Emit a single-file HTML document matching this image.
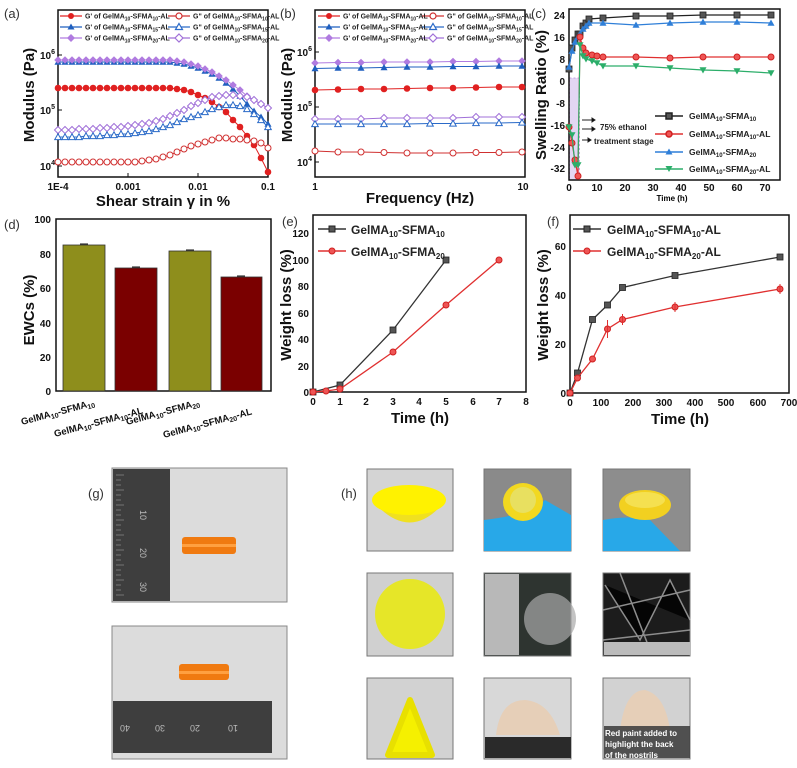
<!DOCTYPE html>
<html><head><meta charset="utf-8"><style>
html,body{margin:0;padding:0;background:#fff}
svg{display:block;font-family:"Liberation Sans",Arial,sans-serif}
.t{font-size:10px;font-weight:bold;fill:#111}
.ax{font-size:15px;font-weight:bold;fill:#111}
.lg{font-size:7px;font-weight:bold;fill:#222}
.pl{font-size:13px;fill:#333}
</style></head><body>
<svg width="797" height="768" viewBox="0 0 797 768" xmlns="http://www.w3.org/2000/svg">
<defs>
<marker id="rc" markerUnits="userSpaceOnUse" markerWidth="10" markerHeight="10" refX="5" refY="5"><circle cx="5" cy="5" r="3.3" fill="#e02020"/></marker>
<marker id="ro" markerUnits="userSpaceOnUse" markerWidth="10" markerHeight="10" refX="5" refY="5"><circle cx="5" cy="5" r="3" fill="#fff" stroke="#d03030" stroke-width="1"/></marker>
<marker id="bt" markerUnits="userSpaceOnUse" markerWidth="10" markerHeight="10" refX="5" refY="5"><path d="M5 1.5L8.5 7.8H1.5Z" fill="#1f5fbf"/></marker>
<marker id="bo" markerUnits="userSpaceOnUse" markerWidth="10" markerHeight="10" refX="5" refY="5"><path d="M5 1.8L8.3 7.6H1.7Z" fill="#fff" stroke="#2a6ac8" stroke-width="1"/></marker>
<marker id="pd" markerUnits="userSpaceOnUse" markerWidth="10" markerHeight="10" refX="5" refY="5"><path d="M5 1.2L8.8 5L5 8.8L1.2 5Z" fill="#b07be0"/></marker>
<marker id="po" markerUnits="userSpaceOnUse" markerWidth="10" markerHeight="10" refX="5" refY="5"><path d="M5 1.5L8.5 5L5 8.5L1.5 5Z" fill="#fff" stroke="#a070d8" stroke-width="1"/></marker>
<marker id="ks" markerUnits="userSpaceOnUse" markerWidth="10" markerHeight="10" refX="5" refY="5"><rect x="2" y="2" width="6" height="6" fill="#555" stroke="#222" stroke-width=".8"/></marker>
<marker id="rc2" markerUnits="userSpaceOnUse" markerWidth="10" markerHeight="10" refX="5" refY="5"><circle cx="5" cy="5" r="3" fill="#ee5555" stroke="#d02020"/></marker>
<marker id="bt2" markerUnits="userSpaceOnUse" markerWidth="10" markerHeight="10" refX="5" refY="5"><path d="M5 1.5L8.5 7.8H1.5Z" fill="#2f7fd8"/></marker>
<marker id="gv" markerUnits="userSpaceOnUse" markerWidth="10" markerHeight="10" refX="5" refY="5"><path d="M1.5 2.2H8.5L5 8.5Z" fill="#2cae6a"/></marker>
</defs>

<!-- (a) -->
<text x="4" y="18" class="pl">(a)</text>
<rect x="58" y="10" width="210" height="167" fill="none" stroke="#111" stroke-width="1.5"/>
<g stroke="#111" stroke-width="1">
<line x1="58" y1="55" x2="62" y2="55"/><line x1="58" y1="110" x2="62" y2="110"/><line x1="58" y1="166" x2="62" y2="166"/>
<line x1="128" y1="177" x2="128" y2="173"/><line x1="198" y1="177" x2="198" y2="173"/></g>
<text x="55" y="59" class="t" text-anchor="end">10<tspan font-size="7" dy="-5">6</tspan></text>
<text x="55" y="114" class="t" text-anchor="end">10<tspan font-size="7" dy="-5">5</tspan></text>
<text x="55" y="170" class="t" text-anchor="end">10<tspan font-size="7" dy="-5">4</tspan></text>
<text x="58" y="190" class="t" text-anchor="middle">1E-4</text>
<text x="128" y="190" class="t" text-anchor="middle">0.001</text>
<text x="198" y="190" class="t" text-anchor="middle">0.01</text>
<text x="268" y="190" class="t" text-anchor="middle">0.1</text>
<text x="163" y="206" class="ax" text-anchor="middle">Shear strain γ in %</text>
<text transform="translate(34,95) rotate(-90)" class="ax" text-anchor="middle">Modulus (Pa)</text>
<g fill="none" stroke-width="1">
<polyline stroke="#e02020" marker-start="url(#rc)" marker-mid="url(#rc)" marker-end="url(#rc)" points="58,88 65,88 72,88 79,88 86,88 93,88 100,88 107,88 114,88 121,88 128,88 135,88 142,88 149,88 156,88 163,88 170,88 177,89 184,90 191,92 198,95 205,98 212,102 219,107 226,112 233,120 240,127 247,136 254,145 261,158 268,172"/>
<polyline stroke="#d03030" marker-start="url(#ro)" marker-mid="url(#ro)" marker-end="url(#ro)" points="58,162 65,162 72,162 79,162 86,162 93,162 100,162 107,162 114,162 121,162 128,162 135,162 142,161 149,160 156,159 163,157 170,155 177,152 184,149 191,146 198,144 205,142 212,140 219,138 226,138 233,139 240,139 247,140 254,141 261,143 268,148"/>
<polyline stroke="#1f5fbf" marker-start="url(#bt)" marker-mid="url(#bt)" marker-end="url(#bt)" points="58,62 65,62 72,62 79,62 86,62 93,62 100,62 107,62 114,62 121,62 128,62 135,62 142,62 149,62 156,62 163,62 170,62 177,63 184,64 191,66 198,68 205,71 212,74 219,78 226,83 233,89 240,96 247,104 254,111 261,117 268,124"/>
<polyline stroke="#b07be0" marker-start="url(#pd)" marker-mid="url(#pd)" marker-end="url(#pd)" points="58,60 65,60 72,60 79,60 86,60 93,60 100,60 107,60 114,60 121,60 128,60 135,60 142,60 149,60 156,60 163,60 170,60 177,61 184,62 191,64 198,66 205,69 212,72 219,76 226,80 233,85 240,90 247,96 254,100 261,104 268,108"/>
<polyline stroke="#a070d8" marker-start="url(#po)" marker-mid="url(#po)" marker-end="url(#po)" points="58,130 65,130 72,130 79,129 86,129 93,129 100,128 107,128 114,127 121,127 128,126 135,125 142,124 149,123 156,121 163,119 170,116 177,113 184,110 191,106 198,103 205,100 212,97 219,96 226,95 233,95 240,96 247,97 254,100 261,104 268,108"/>
<polyline stroke="#2a6ac8" marker-start="url(#bo)" marker-mid="url(#bo)" marker-end="url(#bo)" points="58,137 65,137 72,137 79,137 86,136 93,136 100,136 107,135 114,135 121,134 128,134 135,133 142,132 149,131 156,129 163,127 170,125 177,122 184,119 191,117 198,115 205,112 212,109 219,107 226,105 233,105 240,106 247,109 254,114 261,120 268,127"/>
</g>
<g stroke-width="1.2">
<line x1="60" y1="16" x2="82" y2="16" stroke="#e02020"/><circle cx="71" cy="16" r="3" fill="#e02020"/>
<line x1="60" y1="27" x2="82" y2="27" stroke="#1f5fbf"/><path d="M71 23.5L74.5 29.5H67.5Z" fill="#1f5fbf"/>
<line x1="60" y1="38" x2="82" y2="38" stroke="#b07be0"/><path d="M71 34L75 38L71 42L67 38Z" fill="#b07be0"/>
<line x1="168" y1="16" x2="190" y2="16" stroke="#d03030"/><circle cx="179" cy="16" r="3" fill="#fff" stroke="#d03030"/>
<line x1="168" y1="27" x2="190" y2="27" stroke="#2a6ac8"/><path d="M179 23.5L182.5 29.5H175.5Z" fill="#fff" stroke="#2a6ac8"/>
<line x1="168" y1="38" x2="190" y2="38" stroke="#a070d8"/><path d="M179 34L183 38L179 42L175 38Z" fill="#fff" stroke="#a070d8"/>
</g>
<text x="85" y="18.5" class="lg">G' of GelMA<tspan font-size="5" dy="2">10</tspan><tspan dy="-2">-SFMA</tspan><tspan font-size="5" dy="2">10</tspan><tspan dy="-2">-AL</tspan></text>
<text x="85" y="29.5" class="lg">G' of GelMA<tspan font-size="5" dy="2">10</tspan><tspan dy="-2">-SFMA</tspan><tspan font-size="5" dy="2">15</tspan><tspan dy="-2">-AL</tspan></text>
<text x="85" y="40.5" class="lg">G' of GelMA<tspan font-size="5" dy="2">10</tspan><tspan dy="-2">-SFMA</tspan><tspan font-size="5" dy="2">20</tspan><tspan dy="-2">-AL</tspan></text>
<text x="193" y="18.5" class="lg">G" of GelMA<tspan font-size="5" dy="2">10</tspan><tspan dy="-2">-SFMA</tspan><tspan font-size="5" dy="2">10</tspan><tspan dy="-2">-AL</tspan></text>
<text x="193" y="29.5" class="lg">G" of GelMA<tspan font-size="5" dy="2">10</tspan><tspan dy="-2">-SFMA</tspan><tspan font-size="5" dy="2">15</tspan><tspan dy="-2">-AL</tspan></text>
<text x="193" y="40.5" class="lg">G" of GelMA<tspan font-size="5" dy="2">10</tspan><tspan dy="-2">-SFMA</tspan><tspan font-size="5" dy="2">20</tspan><tspan dy="-2">-AL</tspan></text>

<!-- (b) -->
<text x="280" y="18" class="pl">(b)</text>
<rect x="315" y="10" width="210" height="167" fill="none" stroke="#111" stroke-width="1.5"/>
<g stroke="#111"><line x1="315" y1="52" x2="319" y2="52"/><line x1="315" y1="107" x2="319" y2="107"/><line x1="315" y1="162" x2="319" y2="162"/></g>
<text x="312" y="56" class="t" text-anchor="end">10<tspan font-size="7" dy="-5">6</tspan></text>
<text x="312" y="111" class="t" text-anchor="end">10<tspan font-size="7" dy="-5">5</tspan></text>
<text x="312" y="166" class="t" text-anchor="end">10<tspan font-size="7" dy="-5">4</tspan></text>
<text x="315" y="190" class="t" text-anchor="middle">1</text>
<text x="523" y="190" class="t" text-anchor="middle">10</text>
<text x="420" y="203" class="ax" text-anchor="middle" font-size="16">Frequency (Hz)</text>
<text transform="translate(292,95) rotate(-90)" class="ax" text-anchor="middle">Modulus (Pa)</text>
<g fill="none" stroke-width="1">
<polyline stroke="#b07be0" marker-start="url(#pd)" marker-mid="url(#pd)" marker-end="url(#pd)" points="315,63 338,62.5 361,62.5 384,62 407,62 430,62 453,61.5 476,61.5 499,61 522,61"/>
<polyline stroke="#1f5fbf" marker-start="url(#bt)" marker-mid="url(#bt)" marker-end="url(#bt)" points="315,68.5 338,68 361,68 384,67.5 407,67 430,67 453,66.5 476,66.5 499,66 522,66"/>
<polyline stroke="#e02020" marker-start="url(#rc)" marker-mid="url(#rc)" marker-end="url(#rc)" points="315,90 338,89.5 361,89 384,89 407,88.5 430,88 453,88 476,87.5 499,87 522,87"/>
<polyline stroke="#a070d8" marker-start="url(#po)" marker-mid="url(#po)" marker-end="url(#po)" points="315,119 338,119 361,119 384,118 407,118 430,118 453,118 476,117 499,117 522,117"/>
<polyline stroke="#2a6ac8" marker-start="url(#bo)" marker-mid="url(#bo)" marker-end="url(#bo)" points="315,124 338,124 361,124 384,124 407,124 430,123.5 453,123.5 476,123 499,123 522,122.5"/>
<polyline stroke="#d03030" marker-start="url(#ro)" marker-mid="url(#ro)" marker-end="url(#ro)" points="315,151 338,152 361,152 384,152.5 407,153 430,153 453,153 476,152.5 499,152.5 522,152"/>
</g>
<g stroke-width="1.2">
<line x1="318" y1="16" x2="340" y2="16" stroke="#e02020"/><circle cx="329" cy="16" r="3" fill="#e02020"/>
<line x1="318" y1="27" x2="340" y2="27" stroke="#1f5fbf"/><path d="M329 23.5L332.5 29.5H325.5Z" fill="#1f5fbf"/>
<line x1="318" y1="38" x2="340" y2="38" stroke="#b07be0"/><path d="M329 34L333 38L329 42L325 38Z" fill="#b07be0"/>
<line x1="422" y1="16" x2="444" y2="16" stroke="#d03030"/><circle cx="433" cy="16" r="3" fill="#fff" stroke="#d03030"/>
<line x1="422" y1="27" x2="444" y2="27" stroke="#2a6ac8"/><path d="M433 23.5L436.5 29.5H429.5Z" fill="#fff" stroke="#2a6ac8"/>
<line x1="422" y1="38" x2="444" y2="38" stroke="#a070d8"/><path d="M433 34L437 38L433 42L429 38Z" fill="#fff" stroke="#a070d8"/>
</g>
<text x="343" y="18.5" class="lg">G' of GelMA<tspan font-size="5" dy="2">10</tspan><tspan dy="-2">-SFMA</tspan><tspan font-size="5" dy="2">10</tspan><tspan dy="-2">-AL</tspan></text>
<text x="343" y="29.5" class="lg">G' of GelMA<tspan font-size="5" dy="2">10</tspan><tspan dy="-2">-SFMA</tspan><tspan font-size="5" dy="2">15</tspan><tspan dy="-2">-AL</tspan></text>
<text x="343" y="40.5" class="lg">G' of GelMA<tspan font-size="5" dy="2">10</tspan><tspan dy="-2">-SFMA</tspan><tspan font-size="5" dy="2">20</tspan><tspan dy="-2">-AL</tspan></text>
<text x="447" y="18.5" class="lg">G" of GelMA<tspan font-size="5" dy="2">10</tspan><tspan dy="-2">-SFMA</tspan><tspan font-size="5" dy="2">10</tspan><tspan dy="-2">-AL</tspan></text>
<text x="447" y="29.5" class="lg">G" of GelMA<tspan font-size="5" dy="2">10</tspan><tspan dy="-2">-SFMA</tspan><tspan font-size="5" dy="2">15</tspan><tspan dy="-2">-AL</tspan></text>
<text x="447" y="40.5" class="lg">G" of GelMA<tspan font-size="5" dy="2">10</tspan><tspan dy="-2">-SFMA</tspan><tspan font-size="5" dy="2">20</tspan><tspan dy="-2">-AL</tspan></text>

<!-- (c) -->
<text x="531" y="18" class="pl">(c)</text>
<rect x="570" y="8" width="3.5" height="0" />
<rect x="569.5" y="78" width="10" height="102" fill="#e3d6f3" stroke="#b78bd8" stroke-dasharray="2,2" stroke-width=".7"/>
<rect x="569" y="9" width="211" height="171" fill="none" stroke="#111" stroke-width="1.5"/>
<g class="t" text-anchor="end" font-size="10">
<text x="565" y="19">24</text><text x="565" y="41">16</text><text x="565" y="63">8</text><text x="565" y="85">0</text>
<text x="565" y="107">-8</text><text x="565" y="129">-16</text><text x="565" y="151">-24</text><text x="565" y="172">-32</text></g>
<g class="t" text-anchor="middle" font-size="10">
<text x="569" y="191">0</text><text x="597" y="191">10</text><text x="625" y="191">20</text><text x="653" y="191">30</text>
<text x="681" y="191">40</text><text x="709" y="191">50</text><text x="737" y="191">60</text><text x="765" y="191">70</text></g>
<text x="672" y="201" font-size="8" font-weight="bold" text-anchor="middle">Time (h)</text>
<text transform="translate(546,95) rotate(-90)" class="ax" text-anchor="middle" font-size="14">Swelling Ratio (%)</text>
<g fill="none" stroke-width="1.2">
<polyline stroke="#222" marker-start="url(#ks)" marker-mid="url(#ks)" marker-end="url(#ks)" points="569,69 572,48 575,40 578,34 580,34 583,26 586,23 589,19 603,18 636,16 670,16 703,15 737,15 771,15"/>
<polyline stroke="#2f7fd8" marker-start="url(#bt2)" marker-mid="url(#bt2)" marker-end="url(#bt2)" points="569,67 572,51 575,42 578,37 580,34 583,29 586,26 589,23 603,23 636,25 670,23 703,22 737,22 771,23"/>
<polyline stroke="#e03030" marker-start="url(#rc2)" marker-mid="url(#rc2)" marker-end="url(#rc2)" points="569,127 572,143 575,160 578,176 580,37 583,48 586,53 592,55 597,56 603,57 636,57 670,58 703,57 737,57 771,57"/>
<polyline stroke="#2cae6a" marker-start="url(#gv)" marker-mid="url(#gv)" marker-end="url(#gv)" points="569,127 572,135 575,165 578,165 580,45 583,56 586,59 592,61 597,63 603,66 636,66 670,68 703,70 737,71 771,73"/>
</g>
<g stroke="#222" stroke-width="1"><line x1="582" y1="120" x2="592" y2="120"/><path d="M592 118L595 120L592 122Z"/>
<line x1="582" y1="129" x2="592" y2="129"/><path d="M592 127L595 129L592 131Z"/>
<line x1="582" y1="140" x2="588" y2="140"/><path d="M588 138L591 140L588 142Z"/></g>
<text x="600" y="130" font-size="8" font-weight="bold" fill="#222">75% ethanol</text>
<text x="594" y="144" font-size="8" font-weight="bold" fill="#222">treatment stage</text>
<g stroke-width="1.5">
<line x1="655" y1="116" x2="683" y2="116" stroke="#222"/><rect x="666" y="113" width="6" height="6" fill="#555" stroke="#222"/>
<line x1="655" y1="134" x2="683" y2="134" stroke="#e03030"/><circle cx="669" cy="134" r="3" fill="#ee5555" stroke="#d02020"/>
<line x1="655" y1="152" x2="683" y2="152" stroke="#2f7fd8"/><path d="M669 148.5L672.5 154.5H665.5Z" fill="#2f7fd8"/>
<line x1="655" y1="169" x2="683" y2="169" stroke="#2cae6a"/><path d="M665.5 166H672.5L669 172Z" fill="#2cae6a"/>
</g>
<g font-size="8.5" font-weight="bold" fill="#222">
<text x="689" y="119">GelMA<tspan font-size="6" dy="2">10</tspan><tspan dy="-2">-SFMA</tspan><tspan font-size="6" dy="2">10</tspan></text>
<text x="689" y="137">GelMA<tspan font-size="6" dy="2">10</tspan><tspan dy="-2">-SFMA</tspan><tspan font-size="6" dy="2">10</tspan><tspan dy="-2">-AL</tspan></text>
<text x="689" y="155">GelMA<tspan font-size="6" dy="2">10</tspan><tspan dy="-2">-SFMA</tspan><tspan font-size="6" dy="2">20</tspan></text>
<text x="689" y="172">GelMA<tspan font-size="6" dy="2">10</tspan><tspan dy="-2">-SFMA</tspan><tspan font-size="6" dy="2">20</tspan><tspan dy="-2">-AL</tspan></text>
</g>

<!-- (d) -->
<text x="4" y="229" class="pl">(d)</text>
<rect x="56" y="219" width="215" height="172" fill="none" stroke="#111" stroke-width="1.5"/>
<g class="t" text-anchor="end" font-size="10">
<text x="51" y="223">100</text><text x="51" y="258">80</text><text x="51" y="292">60</text><text x="51" y="327">40</text><text x="51" y="361">20</text><text x="51" y="395">0</text></g>
<rect x="63" y="245" width="42" height="146" fill="#8e8e1c" stroke="#333" stroke-width=".8"/>
<rect x="115" y="268" width="42" height="123" fill="#7a0000" stroke="#333" stroke-width=".8"/>
<rect x="169" y="251" width="42" height="140" fill="#8e8e1c" stroke="#333" stroke-width=".8"/>
<rect x="221" y="277" width="41" height="114" fill="#7a0000" stroke="#333" stroke-width=".8"/>
<g stroke="#111"><line x1="80" y1="244" x2="88" y2="244"/><line x1="132" y1="267" x2="140" y2="267"/><line x1="186" y1="250" x2="194" y2="250"/><line x1="237" y1="276" x2="245" y2="276"/></g>
<text transform="translate(34,310) rotate(-90)" class="ax" text-anchor="middle" font-size="13">EWCs (%)</text>
<g font-size="9.5" font-weight="bold" fill="#111">
<text transform="translate(22,425) rotate(-15)">GelMA<tspan font-size="7" dy="2">10</tspan><tspan dy="-2">-SFMA</tspan><tspan font-size="7" dy="2">10</tspan></text>
<text transform="translate(55,437) rotate(-15)">GelMA<tspan font-size="7" dy="2">10</tspan><tspan dy="-2">-SFMA</tspan><tspan font-size="7" dy="2">10</tspan><tspan dy="-2">-AL</tspan></text>
<text transform="translate(127,425) rotate(-15)">GelMA<tspan font-size="7" dy="2">10</tspan><tspan dy="-2">-SFMA</tspan><tspan font-size="7" dy="2">20</tspan></text>
<text transform="translate(164,438) rotate(-15)">GelMA<tspan font-size="7" dy="2">10</tspan><tspan dy="-2">-SFMA</tspan><tspan font-size="7" dy="2">20</tspan><tspan dy="-2">-AL</tspan></text>
</g>

<!-- (e) -->
<text x="282" y="226" class="pl">(e)</text>
<rect x="313" y="215" width="213" height="177" fill="none" stroke="#111" stroke-width="1.5"/>
<g class="t" text-anchor="end" font-size="10">
<text x="309" y="237">120</text><text x="309" y="264">100</text><text x="309" y="290">80</text><text x="309" y="317">60</text><text x="309" y="343">40</text><text x="309" y="370">20</text><text x="309" y="396">0</text></g>
<g class="t" text-anchor="middle" font-size="10">
<text x="313" y="405">0</text><text x="340" y="405">1</text><text x="366" y="405">2</text><text x="393" y="405">3</text><text x="419" y="405">4</text><text x="446" y="405">5</text><text x="473" y="405">6</text><text x="499" y="405">7</text><text x="526" y="405">8</text></g>
<text x="420" y="423" class="ax" text-anchor="middle">Time (h)</text>
<text transform="translate(291,305) rotate(-90)" class="ax" text-anchor="middle">Weight loss (%)</text>
<g fill="none" stroke-width="1.3">
<polyline stroke="#333" marker-start="url(#ks)" marker-mid="url(#ks)" marker-end="url(#ks)" points="313,392 340,385 393,330 446,260"/>
<polyline stroke="#e03030" marker-start="url(#rc2)" marker-mid="url(#rc2)" marker-end="url(#rc2)" points="313,392 326,391 340,389 393,352 446,305 499,260"/>
</g>
<line x1="318" y1="229" x2="346" y2="229" stroke="#333" stroke-width="1.5"/><rect x="329" y="226" width="6" height="6" fill="#555" stroke="#222"/>
<line x1="318" y1="251" x2="346" y2="251" stroke="#e03030" stroke-width="1.5"/><circle cx="332" cy="251" r="3" fill="#ee5555" stroke="#d02020"/>
<g font-size="12" font-weight="bold" fill="#222">
<text x="351" y="234">GelMA<tspan font-size="8" dy="3">10</tspan><tspan dy="-3">-SFMA</tspan><tspan font-size="8" dy="3">10</tspan></text>
<text x="351" y="256">GelMA<tspan font-size="8" dy="3">10</tspan><tspan dy="-3">-SFMA</tspan><tspan font-size="8" dy="3">20</tspan></text></g>

<!-- (f) -->
<text x="547" y="226" class="pl">(f)</text>
<rect x="570" y="215" width="219" height="178" fill="none" stroke="#111" stroke-width="1.5"/>
<g class="t" text-anchor="end" font-size="10">
<text x="566" y="250">60</text><text x="566" y="299">40</text><text x="566" y="348">20</text><text x="566" y="397">0</text></g>
<g class="t" text-anchor="middle" font-size="10">
<text x="570" y="406">0</text><text x="601" y="406">100</text><text x="633" y="406">200</text><text x="664" y="406">300</text><text x="695" y="406">400</text><text x="726" y="406">500</text><text x="758" y="406">600</text><text x="789" y="406">700</text></g>
<text x="680" y="424" class="ax" text-anchor="middle">Time (h)</text>
<text transform="translate(548,305) rotate(-90)" class="ax" text-anchor="middle">Weight loss  (%)</text>
<g fill="none" stroke-width="1.3">
<polyline stroke="#333" marker-start="url(#ks)" marker-mid="url(#ks)" marker-end="url(#ks)" points="570,393 577.5,373 592.5,319.5 607.5,305 622.5,287.5 675,275.5 780,257"/>
<polyline stroke="#e03030" marker-start="url(#rc2)" marker-mid="url(#rc2)" marker-end="url(#rc2)" points="570,393 577.5,378 592.5,359 607.5,329 622.5,319.5 675,307 780,289"/>
</g>
<g stroke="#e03030"><line x1="607.5" y1="320" x2="607.5" y2="338"/><line x1="622.5" y1="314" x2="622.5" y2="325"/><line x1="675" y1="302" x2="675" y2="312"/><line x1="780" y1="284" x2="780" y2="294"/></g>
<line x1="573" y1="229" x2="601" y2="229" stroke="#333" stroke-width="1.5"/><rect x="584" y="226" width="6" height="6" fill="#555" stroke="#222"/>
<line x1="573" y1="251" x2="601" y2="251" stroke="#e03030" stroke-width="1.5"/><circle cx="587" cy="251" r="3" fill="#ee5555" stroke="#d02020"/>
<g font-size="12" font-weight="bold" fill="#222">
<text x="607" y="234">GelMA<tspan font-size="8" dy="3">10</tspan><tspan dy="-3">-SFMA</tspan><tspan font-size="8" dy="3">10</tspan><tspan dy="-3">-AL</tspan></text>
<text x="607" y="256">GelMA<tspan font-size="8" dy="3">10</tspan><tspan dy="-3">-SFMA</tspan><tspan font-size="8" dy="3">20</tspan><tspan dy="-3">-AL</tspan></text></g>

<!-- (g) -->
<text x="88" y="498" class="pl">(g)</text>
<rect x="112" y="468" width="175" height="134" fill="#dcdcdc" stroke="#888"/>
<rect x="113" y="469" width="57" height="132" fill="#3e3e3e"/>
<g stroke="#aaa" stroke-width=".6"><path d="M116 475H124M116 480H121M116 485H121M116 490H124M116 495H121M116 500H121M116 505H124M116 510H121M116 515H121M116 520H124M116 525H121M116 530H121M116 535H124M116 540H121M116 545H121M116 550H124M116 555H121M116 560H121M116 565H124M116 570H121M116 575H121M116 580H124M116 585H121M116 590H121M116 595H124"/></g>
<text transform="translate(140,510) rotate(90)" font-size="9" fill="#bbb">10</text>
<text transform="translate(140,548) rotate(90)" font-size="9" fill="#bbb">20</text>
<text transform="translate(140,582) rotate(90)" font-size="9" fill="#bbb">30</text>
<rect x="182" y="537" width="54" height="17" rx="3" fill="#f07a10"/><rect x="182" y="544" width="54" height="3" fill="#ffa040"/>
<rect x="112" y="626" width="175" height="133" fill="#dcdcdc" stroke="#888"/>
<rect x="179" y="664" width="50" height="16" rx="3" fill="#f07a10"/><rect x="179" y="671" width="50" height="3" fill="#ffa040"/>
<rect x="113" y="701" width="159" height="52" fill="#3e3e3e"/>
<g font-size="9" fill="#bbb"><text transform="translate(130,725) rotate(180)">40</text><text transform="translate(165,725) rotate(180)">30</text><text transform="translate(200,725) rotate(180)">20</text><text transform="translate(238,725) rotate(180)">10</text></g>

<!-- (h) -->
<text x="341" y="498" class="pl">(h)</text>
<g stroke="#777" stroke-width="1">
<rect x="367" y="469" width="86" height="82" fill="#d4d4d4"/>
<rect x="484" y="469" width="87" height="82" fill="#8a8a8a"/>
<rect x="603" y="469" width="87" height="82" fill="#8d8d8d"/>
<rect x="367" y="573" width="86" height="83" fill="#d0d0d0"/>
<rect x="484" y="573" width="87" height="83" fill="#2e3430"/>
<rect x="603" y="573" width="87" height="83" fill="#1c1c1c"/>
<rect x="367" y="678" width="86" height="81" fill="#d2d2d2"/>
<rect x="484" y="678" width="87" height="81" fill="#d8d8d8"/>
<rect x="603" y="678" width="87" height="81" fill="#d2d2d2"/>
</g>
<path d="M372 500 Q410 545 446 500 Z" fill="#f0e020"/><ellipse cx="409" cy="500" rx="37" ry="15" fill="#fff200"/>
<path d="M484 520 Q530 515 545 500 L571 515 V551 H484Z" fill="#28a8e8"/>
<ellipse cx="523" cy="502" rx="20" ry="19" fill="#f2d820"/><ellipse cx="523" cy="500" rx="13" ry="13" fill="#e8e060"/>
<path d="M603 520 Q630 515 650 520 L680 551 H603Z" fill="#28a8e8"/>
<ellipse cx="645" cy="505" rx="26" ry="15" fill="#f2d020"/><ellipse cx="645" cy="500" rx="20" ry="8" fill="#f5e050"/>
<circle cx="410" cy="614" r="35" fill="#e6e628"/>
<rect x="485" y="574" width="34" height="81" fill="#b8b8b8"/>
<circle cx="550" cy="619" r="26" fill="#aaa" opacity=".7"/>
<g stroke="#aaa" stroke-width="1.5" opacity=".8"><path d="M605 585L640 640L670 580L690 620M603 610L690 590M620 573L650 650M603 640L690 630"/></g>
<rect x="604" y="642" width="86" height="13" fill="#bbb"/>
<path d="M410 700 L432 755 L388 755 Z" fill="#f5f000" stroke="#e8e000" stroke-width="6" stroke-linejoin="round"/>
<path d="M496 735 Q500 700 525 700 Q550 702 560 735Z" fill="#e6cfb8"/>
<rect x="485" y="737" width="86" height="21" fill="#2a2a2a"/>
<path d="M620 730 Q625 690 645 690 Q665 695 670 730Z" fill="#e6cfb8"/>
<rect x="604" y="726" width="86" height="32" fill="#3a3a3a" opacity=".85"/>
<g font-size="8" font-weight="bold" fill="#fff"><text x="605" y="736">Red paint added to</text><text x="605" y="747">highlight the back</text><text x="605" y="758">of the nostrils</text></g>
</svg>
</body></html>
